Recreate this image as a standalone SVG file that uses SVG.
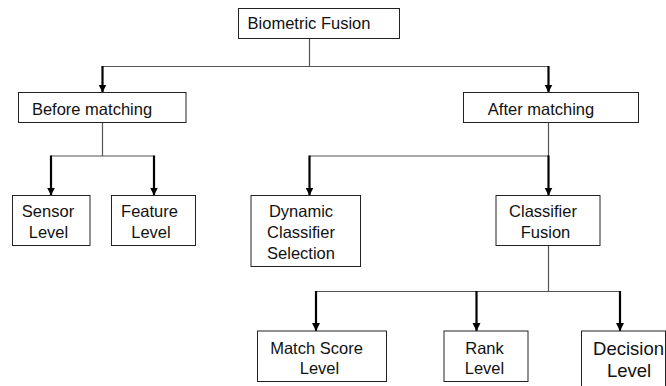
<svg xmlns="http://www.w3.org/2000/svg" width="666" height="386" viewBox="0 0 666 386">
<style>
.box{fill:#fff;stroke:#222;stroke-width:1}
.t{font-family:"Liberation Sans",Arial,sans-serif;font-size:16.5px;fill:#111;text-anchor:middle}
.big{font-size:18.5px}
.thin{fill:none;stroke:#555;stroke-width:1.2}
.arr{fill:none;stroke:#000;stroke-width:2.2;marker-end:url(#ah)}
</style>
<defs>
<marker id="ah" markerUnits="userSpaceOnUse" markerWidth="10" markerHeight="10" viewBox="0 0 10 10" refX="8" refY="5" orient="auto">
<path d="M0,1 L8,5 L0,9 Z" fill="#000"/>
</marker>
</defs>
<g id="connectors">
<path class="thin" d="M309.5,38.5 V66.5 M102.5,66.5 H548.5"/>
<path class="arr" d="M102.5,66 V92.5"/>
<path class="arr" d="M548.5,66 V92.5"/>
<path class="thin" d="M102.5,122.5 V156 M51,156 H154"/>
<path class="arr" d="M51,155.5 V195.5"/>
<path class="arr" d="M154,155.5 V195.5"/>
<path class="thin" d="M548.5,122.5 V156 M309.5,156 H548.5"/>
<path class="arr" d="M309.5,155.5 V195.5"/>
<path class="arr" d="M548.5,155.5 V195.5"/>
<path class="thin" d="M548.5,245.5 V291.5 M316,291.5 H620"/>
<path class="arr" d="M316,291 V331"/>
<path class="arr" d="M476.5,291 V331"/>
<path class="arr" d="M620,291 V331"/>
</g>
<g id="biometric-fusion">
<rect class="box" x="238.5" y="8.5" width="161" height="30"/>
<text class="t" x="309" y="29">Biometric Fusion</text>
</g>
<g id="before-matching">
<rect class="box" x="18.5" y="92.5" width="167.5" height="30"/>
<text class="t" x="92" y="114.5">Before matching</text>
</g>
<g id="after-matching">
<rect class="box" x="463.5" y="92.5" width="175" height="30"/>
<text class="t" x="541" y="114.5">After matching</text>
</g>
<g id="sensor-level">
<rect class="box" x="12.5" y="195.5" width="77.5" height="50"/>
<text class="t" x="48" y="217">Sensor</text>
<text class="t" x="48.5" y="238">Level</text>
</g>
<g id="feature-level">
<rect class="box" x="111.5" y="195.5" width="84" height="50"/>
<text class="t" x="149.5" y="217">Feature</text>
<text class="t" x="151" y="238">Level</text>
</g>
<g id="dynamic-classifier-selection">
<rect class="box" x="251" y="195.5" width="109.5" height="71"/>
<text class="t" x="301" y="217">Dynamic</text>
<text class="t" x="301" y="238">Classifier</text>
<text class="t" x="301" y="258.5">Selection</text>
</g>
<g id="classifier-fusion">
<rect class="box" x="496" y="195.5" width="104" height="50"/>
<text class="t" x="543" y="217">Classifier</text>
<text class="t" x="545.5" y="238">Fusion</text>
</g>
<g id="match-score-level">
<rect class="box" x="257.5" y="331" width="129" height="50.5"/>
<text class="t" x="316.5" y="354">Match Score</text>
<text class="t" x="319.5" y="373.5">Level</text>
</g>
<g id="rank-level">
<rect class="box" x="444" y="331" width="84" height="50.5"/>
<text class="t" x="484.5" y="353.5">Rank</text>
<text class="t" x="484.5" y="373.5">Level</text>
</g>
<g id="decision-level">
<rect class="box" x="581.5" y="331" width="84" height="60"/>
<text class="t big" x="628.5" y="355">Decision</text>
<text class="t big" x="629" y="376.5">Level</text>
</g>
</svg>
